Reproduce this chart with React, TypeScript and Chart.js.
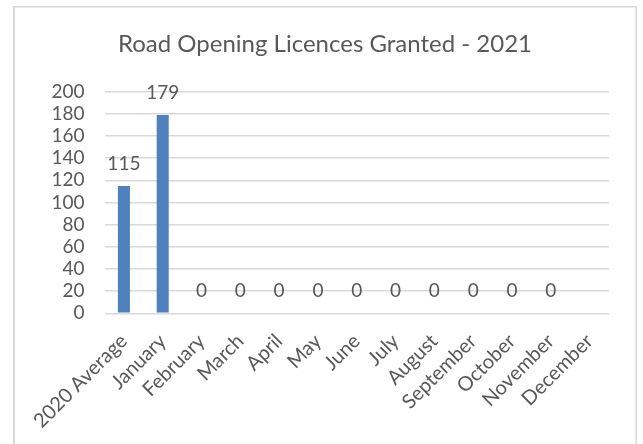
import React, { useEffect, useRef } from "react";
import { Chart, registerables } from "chart.js";

Chart.register(...registerables);

const chartTitle = "Road Opening Licences Granted - 2021";
const categories = [
  "2020 Average",
  "January",
  "February",
  "March",
  "April",
  "May",
  "June",
  "July",
  "August",
  "September",
  "October",
  "November",
  "December",
];
const licences: (number | null)[] = [115, 179, 0, 0, 0, 0, 0, 0, 0, 0, 0, 0, null];
const yMin = 0;
const yMax = 200;
const yStep = 20;

const TEXT = "#595959";
const GRID = "#d9d9d9";
const BAR = "#4F81BD";
const FONT = "Lato, 'Open Sans', sans-serif";

const framePlugin = {
  id: "frame",
  beforeDraw(chart: any) {
    const ctx = chart.ctx;
    ctx.save();
    ctx.fillStyle = "#ffffff";
    ctx.fillRect(0, 0, chart.width, chart.height);
    ctx.fillStyle = GRID;
    ctx.fillRect(13, 6, 624, 1.5);
    ctx.fillRect(13, 6, 2, chart.height);
    ctx.fillRect(635.5, 6, 1.5, chart.height);
    ctx.fillStyle = TEXT;
    ctx.font = `24px ${FONT}`;
    ctx.textAlign = "center";
    ctx.textBaseline = "alphabetic";
    ctx.fillText(chartTitle, 325, 52);
    ctx.restore();
  },
};

const labelPlugin = {
  id: "valueLabels",
  afterDatasetsDraw(chart: any) {
    const ctx = chart.ctx;
    const meta = chart.getDatasetMeta(0);
    const data = chart.data.datasets[0].data;
    ctx.save();
    ctx.fillStyle = TEXT;
    ctx.font = `19px ${FONT}`;
    ctx.textAlign = "center";
    ctx.textBaseline = "alphabetic";
    meta.data.forEach((el: any, i: number) => {
      const v = data[i];
      if (v === null || v === undefined) return;
      if (!isFinite(el.x) || !isFinite(el.y)) return;
      ctx.fillText(String(v), el.x, el.y - 16);
    });
    ctx.restore();
  },
};

export default function App() {
  const ref = useRef<HTMLCanvasElement | null>(null);
  useEffect(() => {
    if (!ref.current) return;
    const chart = new Chart(ref.current, {
      type: "bar",
      data: {
        labels: categories,
        datasets: [
          {
            data: licences,
            backgroundColor: BAR,
            borderWidth: 0,
            categoryPercentage: 1,
            barPercentage: 0.31,
          },
        ],
      },
      options: {
        animation: false,
        responsive: true,
        maintainAspectRatio: false,
        layout: { padding: { left: 0, right: 34, top: 91.7, bottom: 0 } },
        plugins: {
          legend: { display: false },
          tooltip: { enabled: false },
          title: { display: false },
        },
        scales: {
          x: {
            grid: { display: false },
            border: { display: false },
            ticks: {
              color: TEXT,
              font: { family: FONT, size: 20 },
              minRotation: 45,
              maxRotation: 45,
              autoSkip: false,
              padding: 8,
            },
            afterFit(scale: any) {
              scale.height = 130.7;
            },
          },
          y: {
            min: yMin,
            max: yMax,
            grid: { color: GRID, lineWidth: 1.6, drawTicks: false },
            border: { display: false },
            ticks: {
              stepSize: yStep,
              autoSkip: false,
              color: TEXT,
              font: { family: FONT, size: 19 },
              padding: 20,
            },
            afterFit(scale: any) {
              scale.width = 104.5;
            },
          },
        },
      },
      plugins: [framePlugin, labelPlugin],
    });
    return () => chart.destroy();
  }, []);
  return (
    <div style={{ position: "absolute", left: 0, top: 0, width: 643, height: 444 }}>
      <canvas ref={ref} />
    </div>
  );
}
